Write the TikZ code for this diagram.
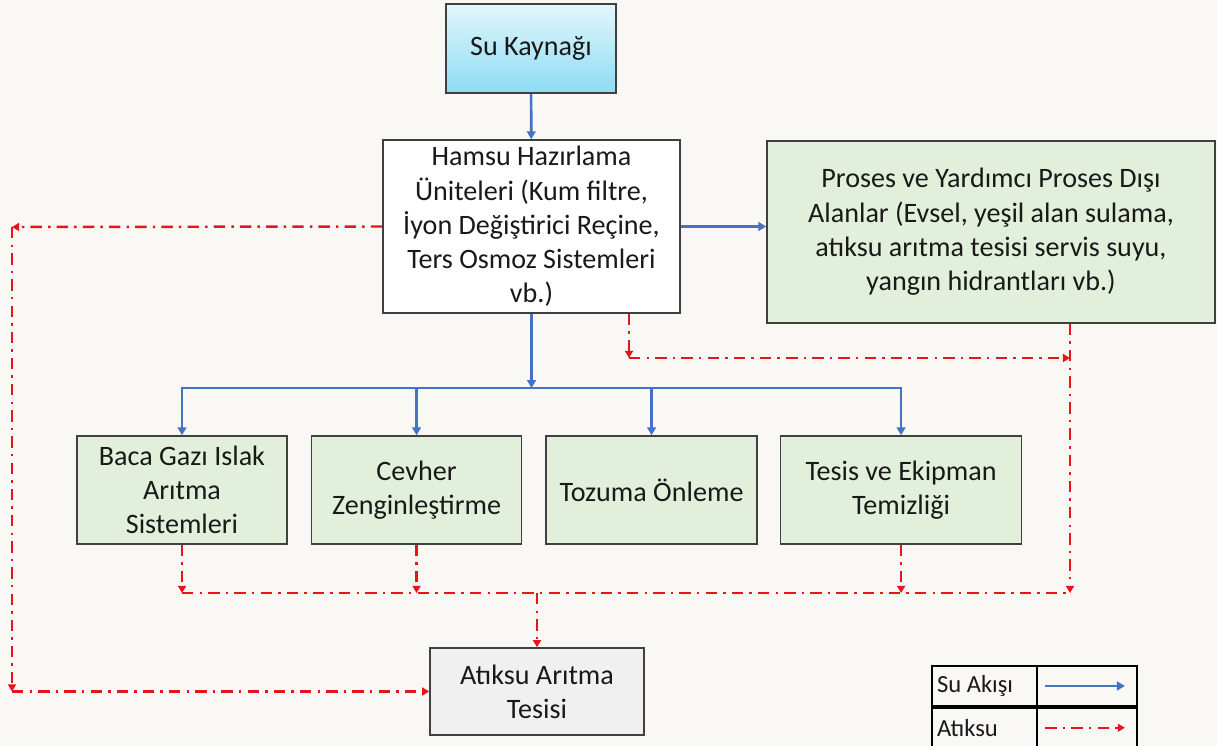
\documentclass[tikz,border=0pt]{standalone}
\usepackage{fontspec}
\setmainfont{Carlito}
\usetikzlibrary{positioning,arrows.meta,calc}

\definecolor{bgcol}{HTML}{F9F8F5}
\definecolor{flowblue}{HTML}{4472C4}
\definecolor{wastered}{HTML}{E8141B}
\definecolor{boxgreen}{HTML}{E2EFDA}
\definecolor{boxgray}{HTML}{F0F0F0}
\definecolor{edgegray}{HTML}{404040}
\definecolor{skytop}{HTML}{E2F7FC}
\definecolor{skybot}{HTML}{8DDCF4}

\begin{document}
\begin{tikzpicture}[
    x=0.02cm, y=-0.02cm,
    every node/.style={font=\fontsize{16}{19.5}\selectfont, text=black!90},
    box/.style={draw=edgegray, line width=0.9pt, align=center, inner sep=2pt},
    srcbox/.style={box, top color=skytop, bottom color=skybot, minimum width=3.4cm, minimum height=1.78cm},
    prepbox/.style={box, fill=white, minimum width=5.94cm, minimum height=3.46cm},
    usebox/.style={box, fill=boxgreen, minimum height=2.16cm},
    treatbox/.style={box, fill=boxgray, minimum width=4.28cm, minimum height=1.74cm},
    cell/.style={draw=black, line width=1pt, minimum height=0.8cm, inner sep=0pt, font=\fontsize{14}{17}\selectfont},
    water/.style={-{Triangle[length=4.5pt,width=5pt]}, flowblue, line width=1.5pt},
    wasteline/.style={wastered, line width=1.4pt, dash pattern=on 6.5pt off 3.5pt on 1.4pt off 3.5pt},
    waste/.style={wasteline, -{Triangle[length=4pt,width=4.5pt]}},
]

% ---- Canvas ----
\fill[bgcol] (0,0) rectangle (1217,746);
\useasboundingbox (0,0) rectangle (1217,746);

% ---- Top: source and preparation ----
\node[srcbox] (su) at (531,48.5) {Su Kaynağı};
\node[prepbox] (hamsu) at (531.5,226.5) {Hamsu Hazırlama\\Üniteleri (Kum filtre,\\İyon Değiştirici Reçine,\\Ters Osmoz Sistemleri\\vb.)};
\node[usebox, minimum width=8.96cm, minimum height=3.64cm] (proses) at (991,232) {Proses ve Yardımcı Proses Dışı\\Alanlar (Evsel, yeşil alan sulama,\\atıksu arıtma tesisi servis suyu,\\yangın hidrantları vb.)};

% ---- Middle: process users ----
\node[usebox, minimum width=4.2cm] (baca) at (182,490) {Baca Gazı Islak\\Arıtma\\Sistemleri};
\node[usebox, minimum width=4.2cm, right=0.46cm of baca] (cevher) {Cevher\\Zenginleştirme};
\node[usebox, minimum width=4.22cm, right=0.46cm of cevher] (tozuma) {Tozuma Önleme};
\node[usebox, minimum width=4.82cm, right=0.44cm of tozuma] (tesis) {Tesis ve Ekipman\\Temizliği};

% ---- Bottom: treatment ----
\node[treatbox] (atiksu) at (537,691.5) {Atıksu Arıtma\\Tesisi};

% Water flow
\coordinate (busy) at (0,388);
\coordinate (hub) at (hamsu.south |- busy);
\draw[water] (su) -- (hamsu);
\draw[water] (hamsu.east) -- (hamsu.east -| proses.west);
\draw[water] (hamsu.south) -- (hub);
\draw[water] (hub) -| (baca.north);
\draw[water] (hub) -| (cevher.north);
\draw[water] (hub) -| (tozuma.north);
\draw[water] (hub) -| (tesis.north);

% Waste water
\coordinate (wtop) at (12,227);
\coordinate (wbot) at (12,691.5);
\draw[waste] (hamsu.west) -- (wtop);
\draw[waste] (wtop) -- (wbot);
\draw[waste] (wbot) -- (atiksu.west);

\coordinate (hturn) at (629,358);
\coordinate (rjoin) at (1070,358);
\coordinate (rbus) at (1070,593);
\draw[waste] (hamsu.south -| hturn) -- (hturn);
\draw[waste] (hturn) -- (rjoin);
\draw[waste] (proses.south -| rbus) -- (rbus);

\coordinate (lbus) at (baca.south |- rbus);
\draw[waste] (baca.south) -- (lbus);
\draw[wasteline] (lbus) -- (rbus);
\draw[waste] (cevher.south) -- (cevher.south |- rbus);
\draw[waste] (tesis.south) -- (tesis.south |- rbus);
\draw[waste] (atiksu.north |- rbus) -- (atiksu.north);

% ---- Legend ----
\node[cell, minimum width=2.1cm, text width=1.9cm, align=flush left] (lgsu) at (984.5,686) {Su Akışı};
\node[cell, minimum width=2.0cm] (lgsuline) at (1087,686) {};
\node[cell, minimum width=2.1cm, text width=1.9cm, align=flush left, below=0pt of lgsu] (lgatik) {Atıksu};
\node[cell, minimum width=2.0cm, below=0pt of lgsuline] (lgatikline) {};
\draw[water] ($(lgsuline.west)+(9,0)$) -- ($(lgsuline.east)+(-13,0)$);
\draw[waste] ($(lgatikline.west)+(9,0)$) -- ($(lgatikline.east)+(-13,0)$);

\end{tikzpicture}
\end{document}
